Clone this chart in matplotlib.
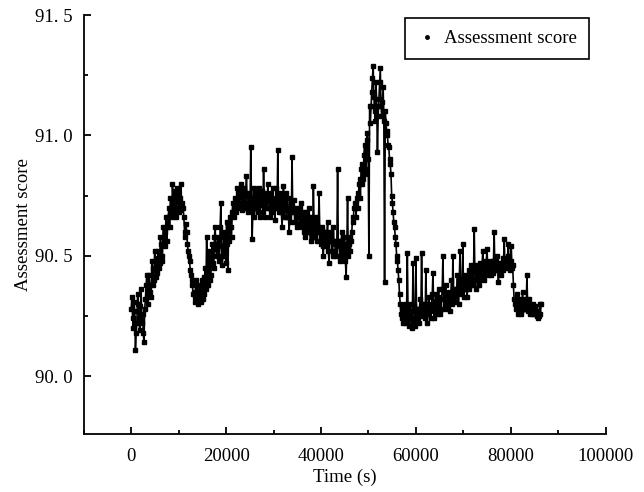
import numpy as np
import matplotlib
matplotlib.use('Agg')
import matplotlib.pyplot as plt
from matplotlib.lines import Line2D
from matplotlib.ticker import MultipleLocator, FuncFormatter

plt.rcParams['font.family'] = ['Liberation Serif', 'DejaVu Serif']
plt.rcParams['font.size'] = 13.5

# score logged every 150 s over one day.
# score_on: readings on the 300 s grid (0, 300, ...), one row = one hour
# score_mid: readings taken halfway between them (150, 450, ...)
sample_step = 150
score_on = [
    90.28, 90.24, 90.31, 90.11, 90.22, 90.30, 90.19, 90.36, 90.26, 90.14, 90.32, 90.42,
    90.30, 90.38, 90.33, 90.45, 90.40, 90.48, 90.43, 90.52, 90.47, 90.55, 90.50, 90.58,
    90.60, 90.56, 90.66, 90.62, 90.70, 90.80, 90.68, 90.74, 90.70, 90.76, 90.69, 90.80,
    90.72, 90.66, 90.58, 90.60, 90.52, 90.48, 90.42, 90.38, 90.35, 90.33, 90.37, 90.30,
    90.36, 90.31, 90.40, 90.34, 90.45, 90.58, 90.38, 90.48, 90.42, 90.55, 90.45, 90.62,
    90.50, 90.58, 90.48, 90.72, 90.46, 90.60, 90.52, 90.64, 90.44, 90.56, 90.62, 90.68,
    90.66, 90.74, 90.70, 90.76, 90.71, 90.80, 90.69, 90.75, 90.72, 90.83, 90.68, 90.76,
    90.95, 90.57, 90.78, 90.70, 90.74, 90.68, 90.75, 90.71, 90.77, 90.86, 90.66, 90.73,
    90.80, 90.70, 90.76, 90.68, 90.72, 90.65, 90.78, 90.94, 90.70, 90.74, 90.62, 90.79,
    90.71, 90.66, 90.74, 90.60, 90.72, 90.91, 90.68, 90.64, 90.70, 90.63, 90.66, 90.72,
    90.62, 90.68, 90.58, 90.66, 90.60, 90.70, 90.56, 90.63, 90.79, 90.58, 90.64, 90.60,
    90.76, 90.55, 90.62, 90.50, 90.60, 90.54, 90.64, 90.47, 90.58, 90.52, 90.62, 90.55,
    90.50, 90.86, 90.56, 90.48, 90.60, 90.52, 90.58, 90.41, 90.74, 90.55, 90.52, 90.60,
    90.64, 90.70, 90.66, 90.76, 90.80, 90.74, 90.88, 90.82, 90.96, 90.86, 91.01, 90.50,
    91.05, 91.18, 91.29, 91.10, 91.22, 90.93, 91.15, 91.28, 91.08, 91.20, 90.39, 91.05,
    91.00, 90.95, 90.88, 90.75, 90.68, 90.62, 90.55, 90.48, 90.40, 90.30, 90.24, 90.22,
    90.26, 90.22, 90.51, 90.24, 90.30, 90.20, 90.47, 90.23, 90.49, 90.28, 90.22, 90.32,
    90.51, 90.25, 90.30, 90.44, 90.22, 90.33, 90.27, 90.30, 90.43, 90.24, 90.34, 90.28,
    90.36, 90.26, 90.32, 90.50, 90.28, 90.38, 90.30, 90.35, 90.27, 90.40, 90.50, 90.31,
    90.36, 90.42, 90.30, 90.52, 90.34, 90.55, 90.36, 90.40, 90.33, 90.44, 90.38, 90.46,
    90.40, 90.61, 90.36, 90.44, 90.38, 90.47, 90.42, 90.52, 90.40, 90.46, 90.53, 90.42,
    90.45, 90.48, 90.43, 90.60, 90.46, 90.50, 90.39, 90.47, 90.44, 90.49, 90.57, 90.45,
    90.48, 90.55, 90.44, 90.54, 90.46, 90.32, 90.28, 90.34, 90.26, 90.30, 90.27, 90.35,
    90.28, 90.30, 90.42, 90.27, 90.29, 90.28, 90.30, 90.26, 90.28, 90.25, 90.24, 90.30,
    90.30,
]
score_mid = [
    90.33, 90.20, 90.27, 90.18, 90.34, 90.24, 90.29, 90.22, 90.18, 90.28, 90.38, 90.34,
    90.42, 90.35, 90.48, 90.38, 90.52, 90.41, 90.49, 90.45, 90.58, 90.48, 90.62, 90.54,
    90.66, 90.62, 90.70, 90.74, 90.66, 90.72, 90.77, 90.66, 90.78, 90.68, 90.74, 90.70,
    90.70, 90.60, 90.63, 90.55, 90.50, 90.44, 90.40, 90.34, 90.31, 90.40, 90.33, 90.38,
    90.34, 90.37, 90.32, 90.41, 90.36, 90.44, 90.52, 90.40, 90.50, 90.47, 90.58, 90.53,
    90.55, 90.50, 90.62, 90.54, 90.50, 90.58, 90.47, 90.55, 90.62, 90.66, 90.58, 90.72,
    90.70, 90.68, 90.78, 90.72, 90.76, 90.72, 90.78, 90.70, 90.76, 90.72, 90.74, 90.70,
    90.74, 90.70, 90.66, 90.76, 90.72, 90.78, 90.66, 90.74, 90.68, 90.72, 90.76, 90.70,
    90.74, 90.66, 90.72, 90.78, 90.70, 90.74, 90.70, 90.68, 90.76, 90.68, 90.72, 90.66,
    90.76, 90.70, 90.66, 90.70, 90.64, 90.68, 90.73, 90.66, 90.62, 90.68, 90.70, 90.64,
    90.66, 90.60, 90.68, 90.62, 90.66, 90.60, 90.66, 90.58, 90.62, 90.66, 90.56, 90.62,
    90.60, 90.58, 90.54, 90.60, 90.56, 90.60, 90.52, 90.56, 90.60, 90.50, 90.56, 90.52,
    90.56, 90.54, 90.50, 90.56, 90.50, 90.55, 90.48, 90.54, 90.50, 90.58, 90.56, 90.66,
    90.70, 90.72, 90.74, 90.70, 90.82, 90.86, 90.80, 90.92, 90.84, 90.98, 90.90, 91.12,
    91.12, 91.24, 91.16, 91.06, 91.12, 91.08, 91.22, 91.12, 91.14, 91.06, 91.10, 91.02,
    90.96, 90.90, 90.84, 90.72, 90.64, 90.58, 90.50, 90.44, 90.34, 90.26, 90.28, 90.25,
    90.30, 90.28, 90.26, 90.21, 90.27, 90.24, 90.29, 90.21, 90.26, 90.24, 90.28, 90.26,
    90.30, 90.27, 90.24, 90.30, 90.26, 90.29, 90.24, 90.34, 90.28, 90.31, 90.26, 90.33,
    90.30, 90.28, 90.36, 90.32, 90.30, 90.34, 90.28, 90.32, 90.34, 90.30, 90.36, 90.34,
    90.32, 90.36, 90.40, 90.36, 90.40, 90.33, 90.42, 90.36, 90.40, 90.36, 90.42, 90.38,
    90.44, 90.40, 90.46, 90.42, 90.40, 90.44, 90.46, 90.42, 90.44, 90.48, 90.44, 90.47,
    90.42, 90.46, 90.48, 90.44, 90.48, 90.44, 90.46, 90.42, 90.47, 90.44, 90.48, 90.46,
    90.50, 90.46, 90.48, 90.45, 90.38, 90.30, 90.32, 90.28, 90.32, 90.26, 90.31, 90.28,
    90.32, 90.28, 90.30, 90.32, 90.26, 90.28, 90.26, 90.29, 90.27, 90.26, 90.25, 90.26,
]

# merge the two readings into one time-ordered series
score = np.empty(len(score_on) + len(score_mid))
score[0::2] = score_on
score[1::2] = score_mid
time_s = np.arange(len(score)) * sample_step


def fmt_score(v, pos):
    # labels written as "90. 5"
    return '{:.1f}'.format(v).replace('.', '. ')


fig = plt.figure(figsize=(6.44, 4.92), dpi=100)
ax = fig.add_axes([0.130, 0.118, 0.8105, 0.8515])

ax.plot(time_s, score, color='black', lw=1.2, marker='s', ms=3.1, mec='black', mfc='black')

ax.set_xlim(-10000, 100000)
ax.set_ylim(89.76, 91.5)
ax.xaxis.set_major_locator(MultipleLocator(20000))
ax.xaxis.set_minor_locator(MultipleLocator(10000))
ax.yaxis.set_major_locator(MultipleLocator(0.5))
ax.yaxis.set_minor_locator(MultipleLocator(0.25))
ax.yaxis.set_major_formatter(FuncFormatter(fmt_score))

for side in ('top', 'right'):
    ax.spines[side].set_visible(False)
for side in ('left', 'bottom'):
    ax.spines[side].set_linewidth(1.3)
ax.tick_params(which='major', direction='in', length=5, width=1.3, pad=8)
ax.tick_params(axis='x', which='major', pad=10)
ax.tick_params(which='minor', direction='in', length=3, width=1.3)

ax.set_xlabel('Time (s)', labelpad=3)
ax.set_ylabel('Assessment score', labelpad=2)

handle = Line2D([], [], color='black', ls='none', marker='o', ms=2.5)
leg = ax.legend([handle], ['Assessment score'], loc='upper right',
                bbox_to_anchor=(0.968, 0.993), fancybox=False, framealpha=1,
                edgecolor='black', handlelength=1.0, handletextpad=0.4,
                borderpad=0.65, borderaxespad=0)
leg.get_frame().set_linewidth(1.2)

fig.savefig('out.png', dpi=100)
plt.close(fig)
